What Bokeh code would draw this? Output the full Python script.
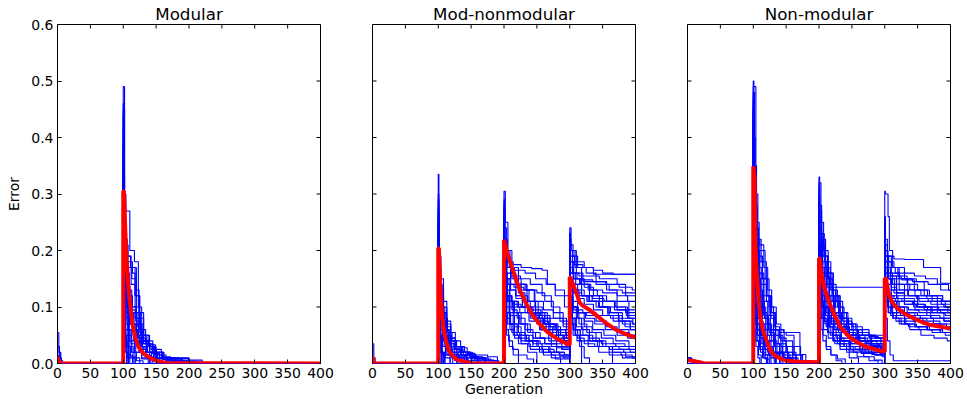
import math
from bokeh.plotting import figure
from bokeh.layouts import row
from bokeh.models import FixedTicker, PrintfTickFormatter, Range1d
from bokeh.embed import file_html
from bokeh.resources import INLINE

TITLES = ["Modular", "Mod-nonmodular", "Non-modular"]
X_LABEL = "Generation"
Y_LABEL = "Error"
X_TICKS = [0, 50, 100, 150, 200, 250, 300, 350, 400]
Y_TICKS = [0.0, 0.1, 0.2, 0.3, 0.4, 0.5, 0.6]
GEN_MAX = 400
ERR_MAX = 0.6

# Individual runs: step breakpoints [generation, error]; each value holds until the next breakpoint.
MODULAR_RUNS = [
    [[0, 0.055], [2, 0.02], [5, 0.005], [8, 0], [100, 0.49], [102, 0.30], [104, 0.27], [110, 0.20], [117, 0.18], [123, 0.10], [128, 0.05], [140, 0.03], [150, 0.01], [175, 0.005], [200, 0]],
    [[0, 0.03], [3, 0.01], [6, 0], [100, 0.45], [102, 0.22], [106, 0.19], [111, 0.17], [118, 0.12], [125, 0.08], [131, 0.04], [145, 0.02], [160, 0.008], [190, 0]],
    [[0, 0.02], [4, 0], [100, 0.42], [101, 0.25], [104, 0.16], [109, 0.11], [114, 0.06], [122, 0.03], [140, 0.01], [155, 0]],
    [[0, 0.01], [3, 0], [100, 0.38], [101, 0.20], [105, 0.14], [110, 0.09], [116, 0.05], [125, 0.025], [135, 0.01], [150, 0]],
    [[0, 0], [100, 0.35], [101, 0.18], [103, 0.10], [108, 0.05], [113, 0.02], [120, 0.005], [130, 0]],
    [[0, 0.015], [2, 0], [100, 0.33], [102, 0.21], [107, 0.17], [112, 0.14], [118, 0.10], [124, 0.06], [130, 0.035], [138, 0.03], [148, 0.015], [165, 0.005], [180, 0]],
    [[100, 0.30], [101, 0.15], [104, 0.08], [109, 0.03], [115, 0.01], [125, 0]],
    [[100, 0.28], [101, 0.17], [104, 0.12], [110, 0.07], [119, 0.04], [128, 0.03], [140, 0.02], [152, 0.01], [170, 0.004], [210, 0]],
    [[100, 0.26], [102, 0.13], [106, 0.06], [112, 0.02], [118, 0]],
    [[100, 0.25], [101, 0.19], [103, 0.17], [113, 0.15], [120, 0.09], [126, 0.06], [134, 0.035], [145, 0.02], [160, 0.01], [185, 0]],
    [[100, 0.24], [101, 0.12], [103, 0.05], [108, 0.015], [114, 0]],
    [[100, 0.22], [101, 0.10], [104, 0.07], [109, 0.04], [117, 0.02], [128, 0.01], [140, 0]],
    [[100, 0.21], [101, 0.16], [105, 0.13], [111, 0.10], [119, 0.075], [126, 0.05], [136, 0.03], [146, 0.025], [158, 0.012], [172, 0.006], [220, 0]],
    [[100, 0.20], [101, 0.09], [103, 0.04], [106, 0.01], [110, 0]],
    [[100, 0.19], [101, 0.14], [104, 0.11], [108, 0.085], [114, 0.06], [121, 0.04], [129, 0.028], [137, 0.02], [146, 0.01], [160, 0]],
    [[100, 0.18], [101, 0.08], [102, 0.03], [105, 0]],
    [[100, 0.17], [101, 0.12], [104, 0.10], [109, 0.08], [115, 0.06], [122, 0.05], [128, 0.035], [140, 0.02], [150, 0.009], [200, 0.003], [215, 0]],
    [[100, 0.16], [101, 0.07], [103, 0.02], [107, 0]],
    [[100, 0.15], [101, 0.11], [106, 0.09], [113, 0.07], [120, 0.045], [127, 0.03], [135, 0.02], [143, 0.01], [152, 0]],
    [[100, 0.14], [101, 0.06], [104, 0.03], [109, 0.01], [115, 0]],
    [[100, 0.40], [101, 0.24], [103, 0.20], [106, 0.18], [114, 0.16], [118, 0.12], [125, 0.09], [131, 0.05], [139, 0.03], [148, 0.01], [165, 0]],
    [[100, 0.31], [101, 0.16], [104, 0.11], [108, 0.085], [116, 0.07], [123, 0.045], [131, 0.035], [142, 0.025], [150, 0.015], [160, 0.008], [190, 0]],
    [[100, 0.46], [101, 0.28], [103, 0.19], [106, 0.13], [110, 0.09], [115, 0.05], [121, 0.03], [130, 0.015], [142, 0]],
    [[100, 0.36], [101, 0.22], [104, 0.17], [108, 0.13], [113, 0.10], [120, 0.07], [127, 0.04], [136, 0.02], [150, 0.01], [168, 0]],
    [[100, 0.29], [101, 0.14], [103, 0.09], [107, 0.06], [112, 0.035], [119, 0.02], [128, 0.008], [138, 0]],
    [[100, 0.27], [101, 0.20], [104, 0.16], [109, 0.12], [114, 0.09], [121, 0.065], [128, 0.045], [135, 0.03], [144, 0.018], [155, 0.008], [175, 0]],
    [[100, 0.23], [101, 0.11], [103, 0.06], [106, 0.03], [111, 0.012], [118, 0]],
    [[100, 0.44], [101, 0.26], [103, 0.21], [107, 0.19], [112, 0.17], [120, 0.13], [124, 0.07], [130, 0.04], [138, 0.03], [147, 0.02], [160, 0.01], [180, 0]],
    [[100, 0.19], [101, 0.10], [102, 0.05], [105, 0.02], [108, 0]],
    [[100, 0.34], [101, 0.19], [103, 0.13], [108, 0.09], [114, 0.06], [119, 0.04], [126, 0.025], [134, 0.012], [145, 0]],
    [[100, 0.17], [101, 0.13], [105, 0.11], [110, 0.095], [118, 0.08], [124, 0.055], [131, 0.04], [139, 0.033], [149, 0.02], [162, 0.01], [200, 0]],
    [[100, 0.39], [101, 0.23], [103, 0.15], [106, 0.10], [110, 0.07], [116, 0.04], [124, 0.02], [134, 0.01], [145, 0.004], [160, 0]],
]

MODNON_RUNS = [
    [[0, 0.035], [2, 0.01], [4, 0], [100, 0.335], [101, 0.20], [103, 0.14], [106, 0.10], [110, 0.06], [116, 0.03], [125, 0.015], [140, 0.01], [165, 0.005], [192, 0],
     [200, 0.305], [202, 0.25], [206, 0.20], [212, 0.17], [222, 0.14], [235, 0.11], [248, 0.09], [262, 0.07], [280, 0.05], [292, 0.04],
     [300, 0.24], [302, 0.20], [308, 0.17], [318, 0.14], [330, 0.12], [345, 0.10], [360, 0.085], [380, 0.07], [392, 0.06]],
    [[100, 0.28], [101, 0.17], [104, 0.12], [108, 0.08], [113, 0.05], [120, 0.03], [132, 0.02], [150, 0.015], [175, 0.012], [190, 0],
     [200, 0.28], [201, 0.22], [205, 0.18], [211, 0.16], [218, 0.14], [232, 0.13], [247, 0.10], [258, 0.08], [270, 0.06], [283, 0.045],
     [300, 0.22], [302, 0.20], [310, 0.18], [322, 0.17], [336, 0.158]],
    [[100, 0.25], [101, 0.14], [103, 0.09], [107, 0.05], [112, 0.025], [120, 0.01], [130, 0],
     [200, 0.26], [201, 0.20], [204, 0.17], [210, 0.155], [225, 0.15], [240, 0.14], [258, 0.12], [272, 0.10], [285, 0.08], [295, 0.06],
     [300, 0.21], [301, 0.18], [306, 0.16], [314, 0.155], [345, 0.15], [372, 0.14], [385, 0.12]],
    [[100, 0.23], [101, 0.12], [103, 0.06], [106, 0.03], [111, 0.01], [118, 0],
     [200, 0.24], [201, 0.18], [204, 0.14], [209, 0.11], [216, 0.09], [226, 0.07], [240, 0.055], [255, 0.045], [272, 0.035], [288, 0.025],
     [300, 0.19], [301, 0.14], [305, 0.11], [312, 0.09], [322, 0.075], [335, 0.06], [352, 0.05], [370, 0.04], [390, 0.03]],
    [[100, 0.21], [101, 0.11], [104, 0.07], [109, 0.04], [116, 0.02], [128, 0.012], [145, 0.005], [160, 0],
     [200, 0.22], [201, 0.16], [205, 0.12], [212, 0.095], [220, 0.08], [232, 0.06], [244, 0.045], [262, 0.035], [280, 0.02], [292, 0.015],
     [300, 0.18], [301, 0.15], [304, 0.13], [312, 0.12], [326, 0.11], [340, 0.10], [358, 0.085], [375, 0.06], [390, 0.05]],
    [[100, 0.20], [101, 0.10], [102, 0.05], [105, 0.02], [109, 0],
     [200, 0.21], [201, 0.17], [204, 0.15], [209, 0.13], [218, 0.12], [228, 0.10], [240, 0.08], [255, 0.06], [268, 0.04], [280, 0.03],
     [300, 0.17], [301, 0.13], [304, 0.10], [310, 0.08], [318, 0.06], [330, 0.045], [345, 0.03], [365, 0.02], [385, 0.012]],
    [[100, 0.19], [101, 0.13], [104, 0.10], [108, 0.08], [114, 0.055], [121, 0.04], [128, 0.03], [136, 0.02], [148, 0.01], [170, 0],
     [200, 0.20], [201, 0.14], [203, 0.10], [208, 0.07], [214, 0.05], [222, 0.035], [236, 0.02], [250, 0],
     [300, 0.16], [301, 0.12], [303, 0.08], [308, 0.05], [315, 0.03], [322, 0.01], [330, 0]],
    [[100, 0.18], [101, 0.09], [103, 0.05], [107, 0.03], [113, 0.015], [125, 0.005], [135, 0],
     [200, 0.19], [201, 0.15], [206, 0.14], [215, 0.135], [230, 0.13], [250, 0.125], [262, 0.11], [275, 0.09], [290, 0.07],
     [300, 0.23], [301, 0.20], [304, 0.18], [310, 0.16], [320, 0.145], [340, 0.14], [360, 0.13], [380, 0.125]],
    [[100, 0.17], [101, 0.08], [103, 0.04], [106, 0.015], [110, 0],
     [200, 0.18], [201, 0.12], [204, 0.09], [210, 0.07], [220, 0.05], [234, 0.04], [250, 0.03], [270, 0.02], [285, 0.012],
     [300, 0.15], [301, 0.11], [305, 0.09], [314, 0.07], [326, 0.055], [340, 0.04], [355, 0.03], [375, 0.025], [392, 0.02]],
    [[100, 0.16], [101, 0.12], [105, 0.09], [110, 0.06], [118, 0.04], [127, 0.03], [140, 0.02], [152, 0.012], [168, 0.006], [185, 0],
     [200, 0.17], [201, 0.13], [205, 0.11], [213, 0.10], [224, 0.09], [238, 0.075], [254, 0.06], [270, 0.05], [290, 0.045],
     [300, 0.14], [301, 0.13], [307, 0.125], [318, 0.12], [335, 0.115], [352, 0.11], [370, 0.10], [388, 0.08]],
    [[100, 0.15], [101, 0.07], [102, 0.03], [105, 0],
     [200, 0.16], [201, 0.11], [204, 0.08], [209, 0.06], [216, 0.045], [226, 0.035], [240, 0.025], [260, 0.015], [278, 0.008],
     [300, 0.13], [301, 0.10], [304, 0.08], [310, 0.065], [320, 0.05], [335, 0.04], [350, 0.03], [365, 0]],
    [[100, 0.30], [101, 0.19], [104, 0.15], [108, 0.11], [113, 0.07], [119, 0.045], [126, 0.03], [135, 0.02], [148, 0.012], [160, 0],
     [200, 0.27], [201, 0.21], [203, 0.18], [208, 0.17], [216, 0.165], [232, 0.16], [248, 0.15], [264, 0.14], [278, 0.12], [292, 0.10],
     [300, 0.20], [301, 0.17], [305, 0.15], [316, 0.14], [332, 0.13], [350, 0.125], [372, 0.11], [390, 0.095]],
    [[100, 0.26], [101, 0.15], [103, 0.11], [107, 0.07], [112, 0.04], [118, 0.02], [125, 0.01], [140, 0],
     [200, 0.25], [201, 0.19], [204, 0.16], [210, 0.14], [218, 0.12], [228, 0.11], [240, 0.09], [252, 0.075], [268, 0.06], [286, 0.05],
     [300, 0.12], [301, 0.10], [306, 0.095], [320, 0.09], [340, 0.085], [362, 0.08], [380, 0.075], [395, 0.07]],
    [[100, 0.14], [101, 0.06], [103, 0.02], [106, 0],
     [200, 0.15], [201, 0.10], [203, 0.06], [207, 0.04], [213, 0.025], [222, 0.015], [235, 0.008], [245, 0],
     [300, 0.11], [301, 0.08], [305, 0.06], [312, 0.045], [322, 0.035], [338, 0.03], [360, 0.025], [382, 0.02]],
    [[100, 0.13], [101, 0.09], [104, 0.07], [109, 0.05], [116, 0.035], [124, 0.025], [134, 0.015], [150, 0.008], [172, 0],
     [200, 0.14], [201, 0.09], [205, 0.07], [212, 0.055], [224, 0.045], [238, 0.04], [255, 0.035], [272, 0.03], [288, 0.025],
     [300, 0.10], [301, 0.07], [305, 0.05], [311, 0.04], [318, 0]],
    [[100, 0.12], [101, 0.05], [102, 0.02], [104, 0],
     [200, 0.13], [201, 0.12], [206, 0.11], [214, 0.105], [226, 0.10], [242, 0.095], [256, 0.085], [270, 0.08], [285, 0.075],
     [300, 0.18], [301, 0.16], [306, 0.15], [318, 0.148], [335, 0.145], [355, 0.14], [375, 0.135], [395, 0.13]],
    [[100, 0.11], [101, 0.08], [104, 0.06], [108, 0.04], [114, 0.025], [122, 0.015], [132, 0.008], [145, 0],
     [200, 0.12], [201, 0.08], [204, 0.05], [208, 0.03], [214, 0.015], [222, 0],
     [300, 0.09], [301, 0.07], [306, 0.06], [316, 0.05], [330, 0.04], [348, 0.035], [370, 0.03], [390, 0.025]],
    [[100, 0.22], [101, 0.14], [103, 0.10], [106, 0.075], [111, 0.05], [118, 0.035], [126, 0.025], [138, 0.015], [155, 0.008], [180, 0],
     [200, 0.23], [201, 0.19], [206, 0.18], [214, 0.175], [226, 0.17], [242, 0.168], [258, 0.165], [266, 0.14], [278, 0.13], [292, 0.12],
     [300, 0.21], [301, 0.19], [307, 0.175], [320, 0.17], [336, 0.165], [350, 0.16], [366, 0.158]],
    [[100, 0.27], [101, 0.16], [102, 0.12], [105, 0.08], [109, 0.05], [114, 0.03], [120, 0.015], [128, 0.005], [136, 0],
     [200, 0.20], [201, 0.15], [204, 0.12], [208, 0.10], [215, 0.085], [224, 0.07], [236, 0.055], [248, 0.045], [262, 0.035], [280, 0.028],
     [300, 0.16], [301, 0.12], [304, 0.10], [312, 0.09], [324, 0.08], [338, 0.07], [354, 0.06], [372, 0.05], [388, 0.045]],
    [[100, 0.24], [101, 0.13], [103, 0.08], [106, 0.05], [110, 0.03], [115, 0.015], [122, 0],
     [200, 0.18], [201, 0.14], [205, 0.12], [211, 0.11], [220, 0.10], [232, 0.09], [246, 0.08], [260, 0.07], [276, 0.06], [294, 0.05],
     [300, 0.17], [301, 0.14], [306, 0.13], [314, 0.12], [328, 0.11], [344, 0.10], [362, 0.09], [380, 0.08], [396, 0.07]],
    [[100, 0.29], [101, 0.18], [103, 0.12], [106, 0.09], [110, 0.06], [116, 0.04], [124, 0.025], [135, 0.015], [150, 0.005], [165, 0],
     [200, 0.29], [201, 0.24], [204, 0.20], [209, 0.17], [216, 0.15], [226, 0.13], [238, 0.11], [252, 0.09], [266, 0.07], [282, 0.055], [295, 0.045],
     [300, 0.23], [301, 0.21], [305, 0.19], [312, 0.17], [325, 0.16], [340, 0.145], [356, 0.13], [372, 0.12], [388, 0.11]],
    [[100, 0.20], [101, 0.12], [103, 0.08], [107, 0.05], [112, 0.03], [120, 0.015], [128, 0],
     [200, 0.21], [201, 0.16], [204, 0.13], [208, 0.11], [214, 0.09], [222, 0.07], [232, 0.05], [244, 0.035], [258, 0.02], [272, 0.01], [286, 0],
     [300, 0.12], [301, 0.09], [304, 0.07], [309, 0.05], [316, 0.04], [328, 0.03], [344, 0.02], [360, 0.015], [380, 0.01]],
    [[100, 0.17], [101, 0.11], [103, 0.08], [107, 0.06], [112, 0.04], [118, 0.03], [128, 0.02], [142, 0.015], [158, 0.01], [176, 0.005], [188, 0],
     [200, 0.24], [201, 0.20], [205, 0.17], [212, 0.15], [222, 0.14], [234, 0.13], [246, 0.11], [260, 0.095], [275, 0.08], [290, 0.065],
     [300, 0.19], [301, 0.17], [305, 0.16], [311, 0.15], [322, 0.135], [336, 0.12], [350, 0.11], [368, 0.10], [385, 0.09]],
    [[100, 0.25], [101, 0.10], [102, 0.05], [104, 0.02], [108, 0],
     [200, 0.17], [201, 0.12], [204, 0.09], [209, 0.07], [216, 0.05], [226, 0.04], [238, 0.03], [254, 0.02], [272, 0.015], [290, 0.01],
     [300, 0.14], [301, 0.10], [304, 0.08], [309, 0.06], [316, 0.05], [328, 0.04], [342, 0.03], [360, 0.02], [378, 0.015], [395, 0.01]],
    [[100, 0.21], [101, 0.15], [104, 0.12], [108, 0.09], [113, 0.065], [119, 0.045], [126, 0.03], [136, 0.02], [148, 0.012], [162, 0],
     [200, 0.26], [201, 0.22], [204, 0.19], [209, 0.17], [215, 0.15], [222, 0.125], [232, 0.10], [244, 0.08], [258, 0.065], [274, 0.05], [290, 0.04],
     [300, 0.13], [301, 0.11], [305, 0.10], [313, 0.09], [325, 0.085], [340, 0.075], [356, 0.065], [372, 0.055], [390, 0.05]],
    [[100, 0.15], [101, 0.10], [104, 0.07], [108, 0.05], [114, 0.03], [121, 0.02], [130, 0.01], [140, 0],
     [200, 0.16], [201, 0.13], [205, 0.12], [212, 0.11], [222, 0.10], [236, 0.09], [250, 0.07], [264, 0.055], [280, 0.04], [294, 0.03],
     [300, 0.21], [301, 0.18], [304, 0.16], [309, 0.14], [318, 0.12], [330, 0.11], [344, 0.10], [358, 0.09], [374, 0.075], [392, 0.06]],
    [[100, 0.18], [101, 0.13], [104, 0.09], [108, 0.065], [113, 0.045], [120, 0.03], [130, 0.015], [143, 0],
     [200, 0.22], [201, 0.18], [204, 0.15], [210, 0.13], [218, 0.115], [228, 0.10], [240, 0.09], [254, 0.08], [270, 0.065], [286, 0.055],
     [300, 0.17], [301, 0.15], [305, 0.14], [312, 0.13], [322, 0.12], [334, 0.11], [350, 0.10], [368, 0.095], [386, 0.085]],
    [[100, 0.13], [101, 0.07], [103, 0.04], [106, 0.02], [110, 0],
     [200, 0.19], [201, 0.15], [204, 0.12], [208, 0.09], [214, 0.07], [222, 0.055], [232, 0.04], [244, 0.03], [258, 0.025], [276, 0.02], [292, 0.015],
     [300, 0.15], [301, 0.12], [305, 0.10], [312, 0.08], [322, 0.065], [334, 0.055], [348, 0.045], [366, 0.035], [384, 0.03]],
    [[100, 0.23], [101, 0.16], [104, 0.13], [108, 0.10], [113, 0.075], [119, 0.055], [126, 0.04], [134, 0.028], [144, 0.018], [156, 0.01], [172, 0],
     [200, 0.25], [201, 0.21], [205, 0.18], [210, 0.16], [217, 0.14], [226, 0.12], [236, 0.10], [248, 0.085], [262, 0.07], [278, 0.06], [294, 0.05],
     [300, 0.16], [301, 0.14], [305, 0.125], [312, 0.115], [322, 0.105], [336, 0.095], [350, 0.085], [366, 0.075], [384, 0.065]],
    [[100, 0.19], [101, 0.09], [103, 0.05], [106, 0.03], [111, 0.015], [118, 0],
     [200, 0.18], [201, 0.14], [204, 0.11], [209, 0.085], [216, 0.065], [226, 0.05], [238, 0.04], [252, 0.03], [268, 0.02], [284, 0.015],
     [300, 0.18], [301, 0.16], [306, 0.15], [315, 0.14], [328, 0.13], [342, 0.12], [356, 0.11], [372, 0.095], [390, 0.08]],
]

NONMOD_RUNS = [
    [[0, 0.01], [5, 0.006], [12, 0.003], [20, 0], [100, 0.50], [101, 0.49], [104, 0.30], [107, 0.22], [112, 0.18], [120, 0.12], [126, 0.06], [140, 0.055], [150, 0.05], [162, 0.015], [175, 0],
     [200, 0.33], [201, 0.32], [203, 0.25], [207, 0.20], [214, 0.16], [222, 0.12], [232, 0.08], [245, 0.06], [260, 0.05], [280, 0.04],
     [300, 0.305], [301, 0.30], [305, 0.26], [307, 0.20], [312, 0.17], [322, 0.15], [335, 0.12], [350, 0.10], [370, 0.09], [390, 0.08]],
    [[0, 0.008], [8, 0.004], [15, 0], [100, 0.48], [102, 0.35], [105, 0.25], [109, 0.21], [116, 0.17], [122, 0.13], [128, 0.09], [134, 0.05], [145, 0.03], [160, 0],
     [200, 0.30], [201, 0.27], [204, 0.22], [210, 0.18], [218, 0.14], [226, 0.11], [236, 0.08], [250, 0.065], [266, 0.05], [285, 0.045],
     [300, 0.24], [301, 0.20], [304, 0.19], [314, 0.185], [330, 0.184], [359, 0.17], [385, 0.142]],
    [[100, 0.45], [101, 0.30], [104, 0.19], [108, 0.13], [114, 0.08], [122, 0.05], [132, 0.03], [145, 0.01], [155, 0],
     [200, 0.28], [201, 0.22], [205, 0.17], [212, 0.135],
     [300, 0.20], [301, 0.17], [306, 0.15], [315, 0.13], [330, 0.11], [350, 0.10], [372, 0.09], [392, 0.085]],
    [[100, 0.42], [101, 0.25], [103, 0.17], [107, 0.11], [112, 0.07], [118, 0.04], [127, 0.02], [140, 0.008], [150, 0],
     [200, 0.25], [201, 0.18], [204, 0.14], [209, 0.11], [216, 0.08], [224, 0.06], [234, 0.04], [248, 0.03], [266, 0.02], [285, 0.015],
     [300, 0.21], [301, 0.18], [305, 0.16], [312, 0.155], [325, 0.15], [342, 0.145], [360, 0.12], [380, 0.10], [396, 0.09]],
    [[100, 0.40], [101, 0.22], [103, 0.14], [106, 0.09], [111, 0.05], [117, 0.025], [125, 0.01], [135, 0],
     [200, 0.23], [201, 0.20], [205, 0.18], [211, 0.16], [220, 0.13], [228, 0.10], [238, 0.07], [252, 0.05], [270, 0.035], [290, 0.03],
     [300, 0.19], [301, 0.15], [304, 0.12], [310, 0.10], [318, 0.085], [330, 0.075], [346, 0.065], [365, 0.06], [385, 0.055]],
    [[100, 0.38], [101, 0.20], [104, 0.15], [109, 0.12], [115, 0.09], [121, 0.06], [146, 0.055], [171, 0.016], [180, 0],
     [200, 0.22], [201, 0.17], [204, 0.13], [208, 0.10], [214, 0.07], [222, 0.05], [232, 0.035], [248, 0.025], [270, 0.02], [288, 0.015],
     [300, 0.18], [301, 0.14], [305, 0.12], [311, 0.11], [322, 0.10], [336, 0.095], [352, 0.09], [370, 0.08], [390, 0.075]],
    [[100, 0.36], [101, 0.18], [102, 0.11], [105, 0.06], [109, 0.03], [114, 0.01], [120, 0],
     [200, 0.21], [201, 0.15], [203, 0.11], [207, 0.08], [213, 0.055], [221, 0.04], [232, 0.025], [246, 0.01], [260, 0],
     [300, 0.17], [301, 0.13], [304, 0.11], [310, 0.09], [318, 0.08], [332, 0.07], [348, 0.065], [368, 0.06], [388, 0.055]],
    [[100, 0.35], [101, 0.26], [104, 0.22], [110, 0.20], [118, 0.15], [124, 0.10], [131, 0.06], [138, 0.035], [150, 0.02], [165, 0],
     [200, 0.20], [201, 0.14], [204, 0.10], [209, 0.07], [217, 0.05], [228, 0.035], [242, 0.02], [258, 0.012], [276, 0.005], [290, 0],
     [300, 0.16], [301, 0.12], [305, 0.10], [312, 0.09], [324, 0.085], [340, 0.08], [358, 0.07], [378, 0.065], [395, 0.06]],
    [[100, 0.33], [101, 0.16], [103, 0.10], [107, 0.06], [112, 0.035], [119, 0.015], [127, 0],
     [200, 0.26], [201, 0.21], [203, 0.18], [206, 0.16], [212, 0.14], [220, 0.12], [230, 0.09], [242, 0.07], [256, 0.06], [276, 0.05],
     [300, 0.155], [301, 0.13], [306, 0.12], [314, 0.115], [326, 0.11], [342, 0.105], [360, 0.10], [380, 0.095]],
    [[100, 0.32], [101, 0.15], [103, 0.09], [106, 0.05], [110, 0.025], [116, 0.01], [122, 0],
     [200, 0.19], [201, 0.12], [203, 0.08], [206, 0.05], [211, 0.03], [218, 0.015], [226, 0.005], [235, 0],
     [300, 0.15], [301, 0.11], [306, 0.09], [313, 0.08], [325, 0.07], [338, 0.06], [355, 0.05], [375, 0.045], [395, 0.04]],
    [[100, 0.30], [101, 0.14], [102, 0.08], [104, 0.04], [108, 0.015], [112, 0],
     [200, 0.18], [201, 0.13], [205, 0.11], [211, 0.09], [219, 0.07], [230, 0.055], [244, 0.045], [260, 0.04], [280, 0.035],
     [300, 0.14], [301, 0.12], [306, 0.115], [316, 0.11], [330, 0.105], [348, 0.10], [365, 0.095], [385, 0.09]],
    [[100, 0.44], [101, 0.28], [103, 0.21], [107, 0.17], [113, 0.14], [120, 0.11], [127, 0.08], [134, 0.05], [142, 0.03], [152, 0.015], [165, 0],
     [200, 0.24], [201, 0.19], [205, 0.16], [211, 0.12], [218, 0.09], [227, 0.07], [240, 0.05], [256, 0.04], [272, 0.03], [290, 0.025],
     [300, 0.22], [301, 0.19], [306, 0.17], [316, 0.16], [330, 0.15], [348, 0.145], [366, 0.14], [385, 0.13]],
    [[100, 0.47], [101, 0.33], [104, 0.24], [108, 0.19], [114, 0.15], [121, 0.12], [128, 0.10], [135, 0.07], [142, 0.04], [150, 0.02], [160, 0],
     [200, 0.31], [201, 0.25], [204, 0.20], [210, 0.17], [217, 0.13], [225, 0.10], [236, 0.075], [250, 0.06], [266, 0.05], [286, 0.045],
     [300, 0.25], [301, 0.21], [304, 0.18], [310, 0.16], [322, 0.14], [338, 0.13], [355, 0.12], [372, 0.11], [392, 0.10]],
    [[100, 0.28], [101, 0.12], [103, 0.07], [106, 0.04], [111, 0.02], [118, 0.008], [125, 0],
     [200, 0.17], [201, 0.11], [203, 0.08], [207, 0.06], [214, 0.045], [224, 0.035], [238, 0.03], [255, 0.025], [275, 0.02], [292, 0.018],
     [300, 0.13], [301, 0.08], [304, 0.04], [308, 0.015], [313, 0.005]],
    [[100, 0.26], [101, 0.11], [102, 0.06], [104, 0.03], [107, 0.01], [110, 0],
     [200, 0.16], [201, 0.12], [205, 0.10], [210, 0.085], [218, 0.07], [228, 0.06], [240, 0.055], [256, 0.05], [276, 0.048], [290, 0.045],
     [300, 0.20], [301, 0.17], [305, 0.155], [312, 0.15], [326, 0.148], [345, 0.13], [365, 0.12], [388, 0.11]],
    [[100, 0.43], [101, 0.27], [104, 0.20], [109, 0.16], [116, 0.12], [124, 0.085], [131, 0.06], [147, 0.04], [160, 0.03], [172, 0],
     [200, 0.29], [201, 0.23], [206, 0.19], [213, 0.15], [220, 0.11], [230, 0.08], [242, 0.06], [258, 0.05], [278, 0.04], [294, 0.035],
     [300, 0.23], [301, 0.20], [305, 0.18], [314, 0.17], [330, 0.16], [345, 0.155], [362, 0.15], [380, 0.14], [397, 0.13]],
    [[100, 0.39], [101, 0.21], [103, 0.13], [106, 0.08], [110, 0.05], [115, 0.03], [123, 0.015], [132, 0],
     [200, 0.27], [201, 0.20], [204, 0.15], [208, 0.11], [214, 0.08], [222, 0.06], [234, 0.045], [250, 0.035], [270, 0.028], [290, 0.02],
     [300, 0.19], [301, 0.16], [304, 0.14], [310, 0.12], [320, 0.10], [334, 0.09], [350, 0.085], [370, 0.08], [390, 0.075]],
    [[100, 0.37], [101, 0.19], [103, 0.12], [107, 0.08], [112, 0.05], [120, 0.03], [130, 0.015], [142, 0],
     [200, 0.15], [201, 0.09], [203, 0.06], [206, 0.04], [211, 0.025], [218, 0.015], [228, 0.008], [240, 0],
     [300, 0.17], [301, 0.14], [306, 0.13], [314, 0.125], [330, 0.12], [348, 0.115], [366, 0.11], [386, 0.105]],
    [[100, 0.34], [101, 0.17], [103, 0.12], [107, 0.09], [113, 0.06], [121, 0.04], [131, 0.02], [145, 0.01], [158, 0],
     [200, 0.14], [201, 0.10], [205, 0.08], [211, 0.065], [220, 0.05], [232, 0.04], [246, 0.03], [262, 0.025], [280, 0.02],
     [300, 0.16], [301, 0.13], [305, 0.11], [312, 0.10], [323, 0.09], [337, 0.085], [354, 0.08], [374, 0.07], [394, 0.065]],
    [[100, 0.31], [101, 0.15], [103, 0.10], [106, 0.07], [110, 0.05], [116, 0.035], [124, 0.02], [134, 0.01], [145, 0],
     [200, 0.20], [201, 0.15], [204, 0.12], [209, 0.10], [216, 0.085], [226, 0.07], [238, 0.055], [252, 0.045], [270, 0.04], [288, 0.035],
     [300, 0.15], [301, 0.12], [304, 0.10], [309, 0.085], [317, 0.075], [330, 0.07], [346, 0.065], [364, 0.06], [384, 0.055]],
    [[0, 0.01], [6, 0.005], [18, 0], [100, 0.49], [101, 0.40], [103, 0.28], [106, 0.20], [110, 0.15], [116, 0.11], [122, 0.07], [128, 0.04], [136, 0.02], [148, 0.008], [158, 0],
     [200, 0.32], [201, 0.28], [204, 0.23], [208, 0.19], [214, 0.15], [222, 0.12], [232, 0.09], [244, 0.07], [258, 0.055], [276, 0.045], [294, 0.04],
     [300, 0.26], [301, 0.22], [304, 0.19], [310, 0.17], [320, 0.155], [334, 0.14], [350, 0.13], [368, 0.12], [388, 0.11]],
    [[100, 0.46], [101, 0.31], [103, 0.22], [106, 0.16], [110, 0.12], [116, 0.085], [123, 0.06], [131, 0.035], [140, 0.02], [152, 0.01], [165, 0],
     [200, 0.27], [201, 0.23], [204, 0.19], [209, 0.155], [216, 0.12], [224, 0.09], [234, 0.065], [246, 0.05], [262, 0.04], [280, 0.035], [296, 0.03],
     [300, 0.21], [301, 0.18], [304, 0.16], [309, 0.14], [318, 0.125], [330, 0.115], [345, 0.105], [362, 0.10], [382, 0.095]],
    [[100, 0.41], [101, 0.24], [103, 0.16], [106, 0.11], [110, 0.075], [115, 0.05], [121, 0.03], [130, 0.015], [140, 0],
     [200, 0.23], [201, 0.17], [204, 0.13], [208, 0.10], [214, 0.075], [222, 0.055], [232, 0.04], [246, 0.03], [262, 0.022], [280, 0.016], [296, 0.012],
     [300, 0.18], [301, 0.16], [305, 0.15], [312, 0.14], [322, 0.13], [336, 0.12], [352, 0.11], [370, 0.105], [390, 0.10]],
    [[100, 0.37], [101, 0.23], [104, 0.18], [108, 0.14], [113, 0.10], [119, 0.07], [126, 0.05], [134, 0.03], [144, 0.015], [156, 0],
     [200, 0.21], [201, 0.16], [204, 0.12], [209, 0.09], [216, 0.065], [226, 0.045], [238, 0.03], [252, 0.02], [268, 0.012], [284, 0.006], [296, 0],
     [300, 0.14], [301, 0.11], [305, 0.09], [312, 0.08], [322, 0.07], [336, 0.065], [352, 0.06], [372, 0.055], [392, 0.05]],
    [[100, 0.33], [101, 0.20], [103, 0.14], [107, 0.10], [112, 0.07], [118, 0.05], [125, 0.03], [134, 0.018], [146, 0.008], [158, 0],
     [200, 0.25], [201, 0.20], [204, 0.17], [208, 0.14], [214, 0.11], [222, 0.085], [232, 0.065], [244, 0.05], [258, 0.04], [276, 0.03], [294, 0.025],
     [300, 0.20], [301, 0.17], [304, 0.15], [310, 0.13], [318, 0.115], [330, 0.105], [346, 0.095], [364, 0.085], [384, 0.08]],
    [[100, 0.29], [101, 0.15], [103, 0.10], [106, 0.07], [110, 0.045], [116, 0.03], [124, 0.015], [134, 0],
     [200, 0.19], [201, 0.14], [204, 0.11], [208, 0.085], [214, 0.065], [222, 0.05], [232, 0.04], [246, 0.035], [264, 0.03], [284, 0.028],
     [300, 0.17], [301, 0.14], [304, 0.12], [309, 0.105], [317, 0.095], [328, 0.085], [344, 0.075], [362, 0.07], [384, 0.065]],
    [[100, 0.45], [101, 0.29], [103, 0.20], [106, 0.15], [111, 0.11], [117, 0.08], [124, 0.055], [132, 0.035], [142, 0.02], [154, 0.01], [168, 0],
     [200, 0.28], [201, 0.24], [204, 0.21], [208, 0.18], [214, 0.14], [222, 0.11], [232, 0.08], [244, 0.06], [258, 0.045], [274, 0.035], [292, 0.03],
     [300, 0.22], [301, 0.19], [304, 0.17], [309, 0.155], [318, 0.14], [330, 0.13], [346, 0.12], [364, 0.115], [386, 0.11]],
    [[100, 0.35], [101, 0.18], [103, 0.12], [106, 0.08], [110, 0.055], [115, 0.035], [122, 0.02], [130, 0.01], [140, 0],
     [200, 0.22], [201, 0.18], [204, 0.15], [208, 0.12], [214, 0.095], [222, 0.075], [232, 0.06], [244, 0.05], [260, 0.04], [278, 0.032], [294, 0.026],
     [300, 0.16], [301, 0.14], [304, 0.125], [310, 0.11], [318, 0.10], [330, 0.09], [346, 0.08], [364, 0.075], [384, 0.07]],
    [[100, 0.42], [101, 0.26], [104, 0.21], [108, 0.18], [114, 0.15], [120, 0.12], [126, 0.09], [132, 0.065], [140, 0.045], [150, 0.03], [162, 0.015], [174, 0],
     [200, 0.24], [201, 0.20], [204, 0.17], [209, 0.14], [216, 0.11], [224, 0.085], [234, 0.065], [246, 0.05], [262, 0.04], [280, 0.03],
     [300, 0.19], [301, 0.17], [304, 0.15], [310, 0.135], [318, 0.12], [330, 0.11], [344, 0.10], [360, 0.095], [380, 0.09]],
    [[100, 0.27], [101, 0.13], [103, 0.08], [106, 0.05], [110, 0.03], [115, 0.015], [122, 0],
     [200, 0.18], [201, 0.13], [204, 0.10], [208, 0.075], [214, 0.055], [222, 0.04], [232, 0.03], [246, 0.022], [264, 0.018], [284, 0.015],
     [300, 0.15], [301, 0.13], [304, 0.115], [310, 0.10], [318, 0.09], [330, 0.08], [344, 0.075], [362, 0.07], [384, 0.065]],
]

# Mean error (red)
MODULAR_MEAN_GEN = [0, 1, 2, 4, 6, 100, 100, 101, 102, 103, 104, 105, 107, 109, 111, 114, 118, 123, 128, 134, 142, 150, 165, 400]
MODULAR_MEAN_ERR = [0.012, 0.008, 0.004, 0.002, 0, 0, 0.305, 0.305, 0.28, 0.24, 0.21, 0.185, 0.15, 0.12, 0.10, 0.07, 0.047, 0.03, 0.021, 0.015, 0.009, 0.005, 0.001, 0]

MODNON_MEAN_GEN = [0, 1, 2, 100, 100, 101, 102, 103, 104, 106, 108, 110, 113, 116, 120, 125, 130, 140, 150, 200,
                   200, 202, 205, 210, 215, 220, 225, 235, 245, 255, 265, 275, 286, 300,
                   300, 301, 305, 310, 315, 320, 330, 344, 357, 370, 385, 400]
MODNON_MEAN_ERR = [0.012, 0.005, 0, 0, 0.204, 0.204, 0.17, 0.14, 0.115, 0.085, 0.065, 0.05, 0.035, 0.024, 0.016, 0.01, 0.006, 0.003, 0, 0,
                   0.219, 0.21, 0.195, 0.178, 0.16, 0.143, 0.127, 0.103, 0.083, 0.069, 0.057, 0.048, 0.04, 0.033,
                   0.152, 0.152, 0.14, 0.125, 0.108, 0.102, 0.095, 0.082, 0.07, 0.06, 0.052, 0.046]

NONMOD_MEAN_GEN = [0, 10, 20, 25, 100, 100, 102, 103, 104, 106, 107, 109, 112, 115, 119, 123, 127, 134, 141, 150, 170, 200,
                   200, 201, 203, 207, 212, 217, 225, 233, 248, 268, 288, 300,
                   300, 302, 304, 306, 310, 314, 320, 329, 339, 349, 360, 370, 385, 400]
NONMOD_MEAN_ERR = [0.006, 0.004, 0.002, 0, 0, 0.349, 0.33, 0.23, 0.185, 0.15, 0.133, 0.10, 0.074, 0.058, 0.045, 0.032, 0.021, 0.013, 0.009, 0.005, 0.003, 0.002,
                   0.186, 0.186, 0.165, 0.139, 0.12, 0.104, 0.082, 0.064, 0.045, 0.031, 0.024, 0.021,
                   0.151, 0.15, 0.135, 0.124, 0.112, 0.104, 0.097, 0.089, 0.083, 0.077, 0.072, 0.068, 0.065, 0.062]

FONT = "DejaVu Sans"


def step_path(run):
    pts = [list(p) for p in run]
    if pts[0][0] > 0:
        pts = [[0, 0.0]] + pts
    xs, ys = [], []
    for i, (g, v) in enumerate(pts):
        g_next = pts[i + 1][0] if i + 1 < len(pts) else GEN_MAX
        xs += [g, g_next]
        ys += [v, v]
    return xs, ys


def style_axis(ax, ticks):
    ax.ticker = FixedTicker(ticks=ticks)
    ax.major_tick_in = 4
    ax.major_tick_out = 0
    ax.minor_tick_in = 0
    ax.minor_tick_out = 0
    ax.major_tick_line_color = "black"
    ax.axis_line_color = None
    ax.major_label_text_font = FONT
    ax.major_label_text_color = "black"
    ax.major_label_text_font_size = "14px"
    ax.major_label_standoff = 4


def inner_ticks(p, xs, ys, angle):
    p.ray(x=xs, y=ys, length=4, length_units="screen", angle=angle,
          line_color="black", line_width=1)


def make_panel(title, runs, mean_g, mean_e, left, right, show_y, xlabel):
    p = figure(frame_width=263, frame_height=339,
               x_range=Range1d(0, GEN_MAX), y_range=Range1d(0, ERR_MAX),
               output_backend="svg", toolbar_location=None,
               min_border_left=left, min_border_right=right,
               min_border_top=23, min_border_bottom=0)
    p.title.text = title
    p.title.align = "center"
    p.title.text_font = FONT
    p.title.text_font_size = "16.7px"
    p.title.text_font_style = "normal"
    p.title.text_color = "black"
    p.title.standoff = 2
    p.grid.visible = False
    p.outline_line_color = "black"
    p.outline_line_width = 1
    p.background_fill_color = "white"
    p.border_fill_color = "white"

    xa = p.xaxis[0]
    style_axis(xa, X_TICKS)
    xa.axis_label = xlabel
    xa.axis_label_text_font = FONT
    xa.axis_label_text_font_size = "14px"
    xa.axis_label_text_font_style = "normal"
    xa.axis_label_text_color = "black"
    xa.axis_label_standoff = 0

    ya = p.yaxis[0]
    if show_y:
        style_axis(ya, Y_TICKS)
        ya.formatter = PrintfTickFormatter(format="%.1f")
        ya.axis_label = Y_LABEL
        ya.axis_label_text_font = FONT
        ya.axis_label_text_font_size = "14px"
        ya.axis_label_text_font_style = "normal"
        ya.axis_label_text_color = "black"
        ya.axis_label_standoff = 6
    else:
        ya.visible = False
        inner_ticks(p, [0] * len(Y_TICKS), Y_TICKS, 0.0)

    xs, ys = [], []
    for r in runs:
        a, b = step_path(r)
        xs.append(a)
        ys.append(b)
    p.multi_line(xs=xs, ys=ys, line_color="#0000ff", line_width=1.1, line_alpha=1.0)
    p.line(mean_g, mean_e, line_color="#ff0000", line_width=4)

    # tick marks on the top and right edges (matplotlib classic style)
    inner_ticks(p, X_TICKS, [ERR_MAX] * len(X_TICKS), -math.pi / 2)
    inner_ticks(p, [GEN_MAX] * len(Y_TICKS), Y_TICKS, math.pi)
    return p


# panels 1 and 3 carry a blank x label so that all three have equal bottom margins
p1 = make_panel(TITLES[0], MODULAR_RUNS, MODULAR_MEAN_GEN, MODULAR_MEAN_ERR, 57, 26, True, "\u00a0")
p2 = make_panel(TITLES[1], MODNON_RUNS, MODNON_MEAN_GEN, MODNON_MEAN_ERR, 26, 26, False, X_LABEL)
p3 = make_panel(TITLES[2], NONMOD_RUNS, NONMOD_MEAN_GEN, NONMOD_MEAN_ERR, 26, 17, False, "\u00a0")

layout = row(p1, p2, p3)
open("out.html", "w").write(file_html(layout, INLINE))
